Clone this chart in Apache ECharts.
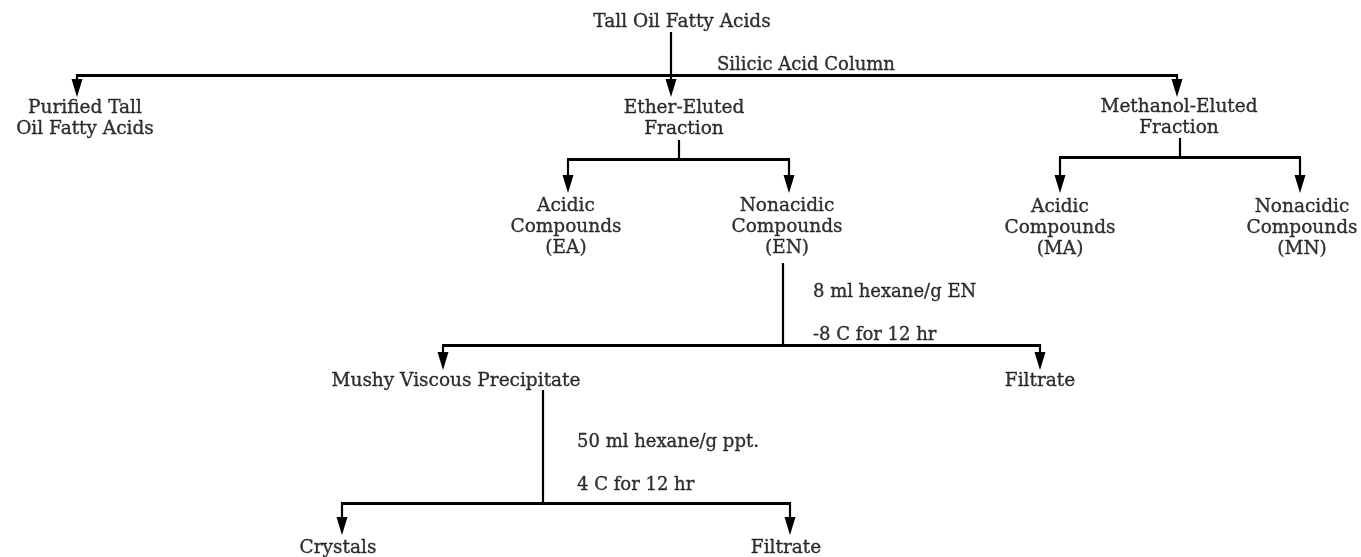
<!DOCTYPE html>
<html>
<head>
<meta charset="utf-8">
<script src="https://cdn.jsdelivr.net/npm/echarts@6/dist/echarts.min.js"></script>
<style>
  html, body { margin: 0; padding: 0; background: #ffffff; }
  #chart { width: 1361px; height: 557px; }
</style>
</head>
<body>
<div id="chart"></div>
<script>
// boxes of the flow sheet (x = centre, y = centre of first text line)
var nodeNames = [
    'Tall Oil Fatty Acids',
    'Purified Tall\nOil Fatty Acids',
    'Ether-Eluted\nFraction',
    'Methanol-Eluted\nFraction',
    'Acidic\nCompounds\n(EA)',
    'Nonacidic\nCompounds\n(EN)',
    'Acidic\nCompounds\n(MA)',
    'Nonacidic\nCompounds\n(MN)',
    'Mushy Viscous Precipitate',
    'Filtrate',
    'Crystals',
    'Filtrate'
];
var nodeX = [682, 85, 684, 1179, 566, 787, 1060, 1302, 456, 1040, 338, 786];
var nodeY = [22, 108, 108, 107, 206, 206, 207, 207, 381, 381, 548, 548];

// side notes written next to the stems (x = left edge)
var noteTexts = ['Silicic Acid Column', '8 ml hexane/g EN', '-8 C for 12 hr', '50 ml hexane/g ppt.', '4 C for 12 hr'];
var noteX = [717, 813, 813, 577, 577];
var noteY = [65, 292, 335, 442, 485];

// splits: stem x, stem top, bar y, arrow xs, arrow tip y
var splitStemX = [671, 679, 1180, 783, 543];
var splitStemTop = [32, 140, 138, 263, 390];
var splitBarY = [75, 159, 157, 345, 503];
var splitTargets = [[77, 671, 1177], [568, 789], [1060, 1300], [443, 1040], [342, 790]];
var splitTipY = [97, 193, 193, 370, 535];

var myChart = echarts.init(document.getElementById('chart'));

var ink = '#000000';
var lineH = 21;
var arrowLen = 18;

var nodeData = nodeNames.map(function (n, i) {
    var lines = n.split('\n').length;
    return { name: n, value: [nodeX[i], nodeY[i] + (lines - 1) * lineH / 2] };
});
var noteData = noteTexts.map(function (t, i) {
    return { name: t, value: [noteX[i], noteY[i]] };
});

var barLines = [];
var stemLines = [];
var arrowData = [];
splitStemX.forEach(function (sx, i) {
    var xs = splitTargets[i];
    var lo = Math.min.apply(null, xs), hi = Math.max.apply(null, xs);
    barLines.push({ coords: [[lo - 1, splitBarY[i]], [hi + 1, splitBarY[i]]] });
    // stem from the parent down to the bar (or through it for a straight arrow)
    var stemEnd = xs.indexOf(sx) >= 0 ? splitTipY[i] - arrowLen + 4 : splitBarY[i];
    stemLines.push({ coords: [[sx, splitStemTop[i]], [sx, stemEnd]] });
    xs.forEach(function (x) {
        if (x !== sx) {
            stemLines.push({ coords: [[x, splitBarY[i]], [x, splitTipY[i] - arrowLen + 4]] });
        }
        arrowData.push([x, splitTipY[i] - arrowLen / 2]);
    });
});

var textStyle = {
    show: true,
    position: 'inside',
    formatter: '{b}',
    color: ink,
    fontFamily: 'DejaVu Serif',
    fontSize: 18.5,
    textBorderColor: ink,
    textBorderWidth: 0.35,
    verticalAlign: 'middle'
};

option = {
    backgroundColor: '#ffffff',
    animation: false,
    grid: { left: 0, right: 0, top: 0, bottom: 0 },
    xAxis: { type: 'value', min: 0, max: 1361, show: false },
    yAxis: { type: 'value', min: 0, max: 557, inverse: true, show: false },
    series: [
        {
            type: 'lines',
            coordinateSystem: 'cartesian2d',
            silent: true,
            lineStyle: { color: ink, width: 2.8, opacity: 1, curveness: 0 },
            data: barLines
        },
        {
            type: 'lines',
            coordinateSystem: 'cartesian2d',
            silent: true,
            lineStyle: { color: ink, width: 2.2, opacity: 1, curveness: 0 },
            data: stemLines
        },
        {
            type: 'scatter',
            silent: true,
            symbol: 'path://M0,0 L10,0 L5,18 Z',
            symbolSize: [11, arrowLen],
            itemStyle: { color: ink, opacity: 1 },
            data: arrowData
        },
        {
            type: 'scatter',
            silent: true,
            symbolSize: 0,
            label: Object.assign({}, textStyle, { align: 'center', lineHeight: lineH }),
            data: nodeData
        },
        {
            type: 'scatter',
            silent: true,
            symbolSize: 0,
            label: Object.assign({}, textStyle, { align: 'left', fontSize: 18 }),
            data: noteData
        }
    ]
};
myChart.setOption(option);
window.addEventListener('resize', function () {
    myChart.resize();
});
</script>
</body>
</html>
